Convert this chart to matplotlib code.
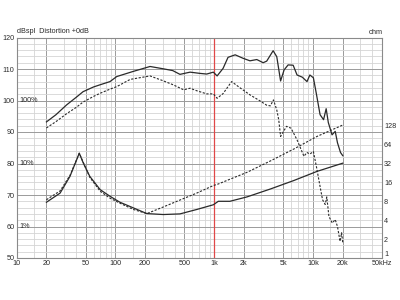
import matplotlib
matplotlib.use("Agg")
import matplotlib.pyplot as plt
from matplotlib.ticker import FixedLocator, NullFormatter, NullLocator

# SPL on axis (solid) and off axis (dashed), dB
spl_freq = [20, 25, 32, 40, 47, 60, 70, 88, 103, 150, 224, 300, 380, 450, 570,
            720, 840, 980, 1070, 1230, 1380, 1630, 1960, 2300, 2700, 3130, 3400,
            3950, 4300, 4700, 5100, 5600, 6300, 6900, 7800, 8700, 9300, 10100,
            10800, 11800, 12800, 13600, 14300, 15600, 16800, 17700, 19000, 20000]
spl_db = [93.2, 95.5, 98.6, 101.0, 102.8, 104.3, 105.0, 106.0, 107.6, 109.2, 110.8,
          110.1, 109.5, 108.3, 109.0, 108.6, 108.4, 109.0, 107.8, 110.2, 113.7, 114.5,
          113.4, 112.6, 113.0, 112.0, 112.5, 115.8, 113.9, 106.2, 109.7, 111.3, 111.2,
          108.1, 107.4, 106.0, 108.1, 107.2, 102.3, 95.5, 93.9, 97.4, 93.0, 89.1,
          90.2, 86.6, 83.5, 82.5]

off_freq = [20, 25, 32, 40, 47, 60, 70, 88, 103, 141, 224, 262, 302, 383, 490, 570,
            665, 840, 980, 1070, 1230, 1500, 1830, 2300, 2900, 3400, 3700, 3980,
            4300, 4500, 4700, 5400, 6000, 6900, 8100, 8700, 9300, 10100, 10900,
            11800, 12500, 13300, 13800, 14500, 15700, 16800, 17700, 18800, 19500, 20000]
off_db = [91.3, 93.3, 95.8, 97.8, 99.5, 101.3, 102.3, 103.6, 104.4, 106.7, 107.8,
          107.0, 106.3, 105.0, 103.4, 103.9, 103.1, 102.1, 102.1, 100.7, 102.2, 106.0,
          104.0, 101.8, 99.9, 98.5, 98.3, 100.2, 97.0, 93.9, 88.6, 91.8, 91.2, 87.5,
          82.3, 83.5, 83.0, 83.8, 78.6, 72.7, 68.5, 67.0, 69.4, 63.2, 61.1, 62.2,
          60.0, 55.3, 58.0, 55.0]

# lower pair, read on the dB scale (ohm axis: 50 dB + 20 log10 Z)
low_freq = [20, 27.5, 34.6, 40.5, 43, 47.3, 55, 70, 88, 111, 152, 208, 305, 450,
            665, 980, 1100, 1440, 2150, 3700, 6400, 11000, 20000]
low_solid = [67.7, 70.6, 75.9, 81.2, 83.3, 80.1, 75.9, 71.7, 69.6, 67.7, 65.9, 64.1,
             63.8, 64.0, 65.4, 66.9, 68.0, 68.0, 69.4, 71.9, 74.6, 77.5, 80.1]
low_dashed = [68.5, 71.3, 76.2, 81.3, 83.2, 80.3, 75.6, 71.2, 69.0, 67.4, 65.4, 64.1,
              66.2, 68.4, 70.6, 73.0, 73.5, 75.0, 77.2, 80.8, 84.6, 88.6, 92.2]

x_major = [10, 20, 50, 100, 200, 500, 1000, 2000, 5000, 10000, 20000, 50000]
x_labels = ["10", "20", "50", "100", "200", "500", "1k", "2k", "5k", "10k", "20k", "50kHz"]
x_minor = [d * m for d in (10, 100, 1000, 10000) for m in (1.5, 3, 4, 6, 7, 8, 9)]
ohm_ticks = [1, 2, 4, 8, 16, 32, 64, 128]

plt.rcParams["font.family"] = ["Liberation Sans", "DejaVu Sans"]
fs = 5.2
ink = "#2a2a2a"

fig = plt.figure(figsize=(4, 3), dpi=100)
ax = fig.add_axes([16.7 / 400, 1 - 258 / 300, 365.3 / 400, 220.5 / 300])
ax.set_xscale("log")
ax.set_xlim(10, 50000)
ax.set_ylim(50, 120)

ax.xaxis.set_major_locator(FixedLocator(x_major))
ax.xaxis.set_minor_locator(FixedLocator(x_minor))
ax.xaxis.set_minor_formatter(NullFormatter())
ax.set_xticklabels(x_labels)
ax.set_yticks(range(50, 121, 10))
ax.yaxis.set_minor_locator(FixedLocator(range(50, 121, 2)))
ax.tick_params(which="both", length=0, labelsize=fs, colors=ink, pad=1.5)
ax.grid(which="major", color="#9a9a9a", lw=0.7)
ax.grid(which="minor", color="#d4d4d4", lw=0.6)
ax.set_axisbelow(True)
for s in ax.spines.values():
    s.set_color("#8a8a8a")
    s.set_linewidth(0.8)

ax.axvline(1000, color="#e04848", lw=0.9)

ax.plot(spl_freq, spl_db, color=ink, lw=0.9)
ax.plot(off_freq, off_db, color=ink, lw=0.8, dashes=(2, 1.4))
ax.plot(low_freq, low_solid, color=ink, lw=0.9)
ax.plot(low_freq, low_dashed, color=ink, lw=0.8, dashes=(2, 1.4))

for val, txt in [(100, "100%"), (80, "10%"), (60, "1%")]:
    ax.text(10.7, val, txt, fontsize=fs, color=ink, va="center", ha="left")

ax2 = ax.twinx()
ax2.set_yscale("log")
ax2.set_ylim(1, 10 ** 3.5)
ax2.yaxis.set_major_locator(FixedLocator(ohm_ticks))
ax2.yaxis.set_minor_locator(NullLocator())
ax2.set_yticklabels([str(t) for t in ohm_ticks])
ax2.tick_params(length=0, labelsize=fs, colors=ink, pad=1.5)
# lowest ohm label sits just above the kHz label, as in the original
ax2.get_yticklabels()[0].set_va("bottom")
for s in ax2.spines.values():
    s.set_visible(False)

fig.text(17 / 400, 1 - 31.5 / 300, "dBspl  Distortion +0dB", fontsize=fs, color=ink,
         ha="left", va="center")
fig.text(383 / 400, 1 - 32 / 300, "ohm", fontsize=fs, color=ink, ha="right", va="center")

fig.savefig("out.png", dpi=100, facecolor="white")
